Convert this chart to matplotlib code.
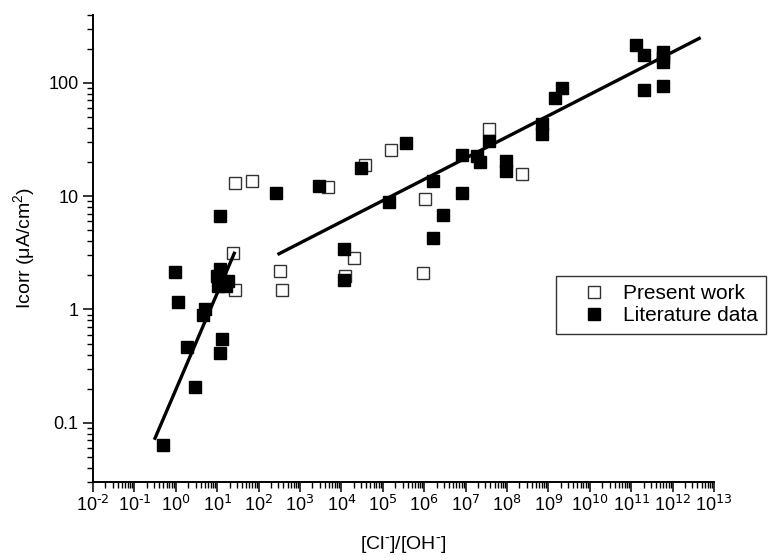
import matplotlib
matplotlib.use("Agg")
import matplotlib.pyplot as plt
from matplotlib import ticker
import numpy as np

# present work (open squares)
present_ratio = [27, 70, 24.5, 27, 329, 360, 4670, 1.24e4, 2.0e4, 3.8e4,
                 1.58e5, 9.4e5, 1.05e6, 3.7e7, 2.3e8]
present_icorr = [13.0, 13.6, 3.16, 1.49, 2.17, 1.5, 12.1, 1.99, 2.84, 18.8,
                 25.6, 2.11, 9.4, 39, 15.8]

# literature data (filled squares)
lit_ratio = [0.49, 0.97, 1.15, 1.9, 2.86, 4.5, 5.2, 11.9, 13.3, 12.0,
             9.7, 11.0, 11.7, 12.9, 16.0, 18.5, 10.5,
             268, 2880, 1.17e4, 1.17e4, 3.03e4, 1.39e5, 3.57e5,
             1.63e6, 1.63e6, 2.9e6, 8.3e6, 8.3e6, 1.85e7, 2.2e7, 3.6e7,
             9.6e7, 9.6e7, 6.9e8, 6.9e8, 1.44e9, 2.17e9,
             1.33e11, 2.08e11, 2.08e11, 5.9e11, 5.9e11, 5.9e11, 5.9e11]
lit_icorr = [0.063, 2.13, 1.17, 0.47, 0.205, 0.9, 1.0, 6.7, 0.55, 0.41,
             1.99, 1.64, 2.27, 1.79, 1.62, 1.79, 1.62,
             10.7, 12.2, 3.43, 1.82, 17.9, 8.85, 29.3,
             13.5, 4.3, 6.8, 10.6, 23.1, 22.4, 20.0, 30.7,
             20.5, 16.7, 43.7, 35.2, 74, 89.5,
             214, 178, 86.5, 188, 154, 93, 170]

# fitted lines (end points)
fit1_ratio = [0.315, 25.9]
fit1_icorr = [0.073, 3.13]
fit2_ratio = [311, 4.4e12]
fit2_icorr = [3.1, 247]

y_ticks = [0.1, 1, 10, 100]
y_ticklabels = ['0.1', '1', '10', '100']

plt.rcParams['font.family'] = ['Liberation Sans', 'DejaVu Sans']
plt.rcParams['mathtext.default'] = 'regular'
plt.rcParams['axes.unicode_minus'] = False
plt.rcParams['font.size'] = 13

fig = plt.figure(figsize=(7.78, 5.6), dpi=100)
ax = fig.add_axes([0.1195, 0.1393, 0.7982, 0.8345])

ax.plot(present_ratio, present_icorr, 's', ms=8, mfc='white', mec='#333333',
        mew=1.0, ls='none', label='Present work', zorder=3)
ax.plot(lit_ratio, lit_icorr, 's', ms=8, mfc='black', mec='black',
        mew=1.0, ls='none', label='Literature data', zorder=4)
ax.plot(fit1_ratio, fit1_icorr, color='black', lw=2.4, zorder=5)
ax.plot(fit2_ratio, fit2_icorr, color='black', lw=2.4, zorder=5)

ax.set_xscale('log')
ax.set_yscale('log')
ax.set_xlim(1e-2, 1e13)
ax.set_ylim(0.03, 400)


def decade_label(v, pos):
    # plain hyphen in the exponent, like the original
    return r'10$^{\text{%d}}$' % int(round(np.log10(v)))


# axis ticks, all decades labelled
ax.xaxis.set_major_locator(ticker.LogLocator(base=10, numticks=20))
ax.xaxis.set_major_formatter(ticker.FuncFormatter(decade_label))
ax.xaxis.set_minor_locator(ticker.LogLocator(base=10, subs=np.arange(2, 10), numticks=20))
ax.xaxis.set_minor_formatter(ticker.NullFormatter())
ax.set_yticks(y_ticks)
ax.set_yticklabels(y_ticklabels)
ax.yaxis.set_minor_locator(ticker.LogLocator(base=10, subs=np.arange(2, 10), numticks=20))
ax.yaxis.set_minor_formatter(ticker.NullFormatter())

ax.tick_params(which='major', direction='out', length=7, width=1.1, labelsize=13)
ax.tick_params(which='minor', direction='out', length=4, width=1.0)
ax.tick_params(axis='x', pad=2)

for side in ['top', 'right']:
    ax.spines[side].set_visible(False)
for side in ['left', 'bottom']:
    ax.spines[side].set_linewidth(1.4)

ax.set_xlabel(r'[Cl$^{\text{-}}$]/[OH$^{\text{-}}$]', fontsize=14, labelpad=14)
ax.set_ylabel('Icorr (\u03bcA/cm$^{2}$)', fontsize=14, labelpad=8)

leg = ax.legend(loc='upper left', bbox_to_anchor=(556 / 778, 1 - 276 / 560),
                bbox_transform=fig.transFigure, fontsize=15, frameon=True,
                fancybox=False, shadow=False, handlelength=2.8,
                handletextpad=0.0, borderpad=0.4, labelspacing=0.15,
                borderaxespad=0)
leg.get_frame().set_edgecolor('black')
leg.get_frame().set_linewidth(1.0)

plt.savefig('out.png', dpi=100)
